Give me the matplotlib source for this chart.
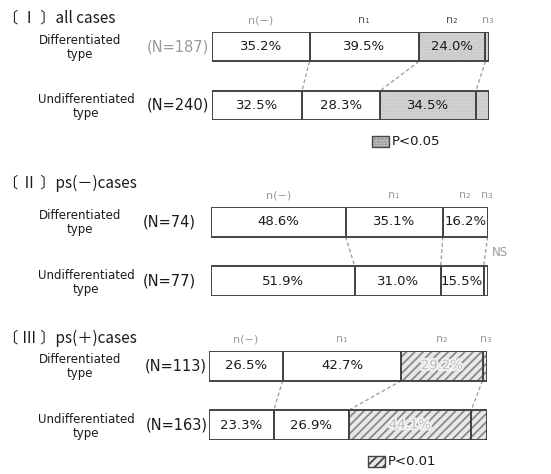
import matplotlib
matplotlib.use("Agg")
import matplotlib.pyplot as plt
import matplotlib.patheffects as pe
from matplotlib.patches import Rectangle

W, H = 551, 474

# ---- data ----
categories = ["n(−)", "n₁", "n₂", "n₃"]
row_labels = ["Differentiated\ntype", "Undifferentiated\ntype"]

titles = ["〔 Ⅰ 〕all cases", "〔 Ⅱ 〕ps(－)cases", "〔 Ⅲ 〕ps(＋)cases"]
n_labels = [["(N=187)", "(N=240)"], ["(N=74)", "(N=77)"], ["(N=113)", "(N=163)"]]

# shares per row: n(-), n1, n2, n3   [differentiated, undifferentiated]
all_diff = [35.2, 39.5, 24.0, 1.3]
all_undiff = [32.5, 28.3, 34.5, 4.7]
psneg_diff = [48.6, 35.1, 16.2, 0.1]
psneg_undiff = [51.9, 31.0, 15.5, 1.6]
pspos_diff = [26.5, 42.7, 29.2, 1.6]
pspos_undiff = [23.3, 26.9, 44.1, 5.7]

panels = [(all_diff, all_undiff), (psneg_diff, psneg_undiff), (pspos_diff, pspos_undiff)]
# which segments carry the significance fill in each panel
fill_style = ["dots", None, "hatch"]
legend_text = ["P<0.05", None, "P<0.01"]

# ---- layout (pixels) ----
bar_boxes = [(212, 32, 489, 120), (211, 207, 488, 296), (209, 351, 487, 440)]
title_pos = [(3, 18), (3, 183), (3, 338)]
nlabel_right = [(209, 209), (196, 196), (207, 208)]
legend_pos = [(372, 136), None, (368, 456)]

plt.rcParams["hatch.linewidth"] = 1.3

fig = plt.figure(figsize=(W / 100, H / 100), dpi=100)
fig.patch.set_facecolor("white")

overlay = fig.add_axes([0, 0, 1, 1])
overlay.set_xlim(0, W)
overlay.set_ylim(H, 0)
overlay.axis("off")

cjk = ["Noto Sans CJK JP", "DejaVu Sans"]
edge = "#444444"
gray_txt = "#9a9a9a"
dark = "#1a1a1a"

STYLES = {
    "dots": dict(facecolor="#dadada", edgecolor="#c0c0c0", hatch="......"),
    "hatch": dict(facecolor="#e8e8e8", edgecolor="#8a8a8a", hatch="////"),
}


def shade(ax, x, y, w, h, style):
    ax.add_patch(Rectangle((x, y), w, h, linewidth=0, zorder=1, **STYLES[style]))


for p, (rows, box) in enumerate(zip(panels, bar_boxes)):
    x0, y0, x1, y1 = box
    ax = fig.add_axes([x0 / W, 1 - y1 / H, (x1 - x0) / W, (y1 - y0) / H])
    ax.set_xlim(0, 100)
    ax.set_ylim(-0.25, 1.25)
    ax.axis("off")

    ypos = [1, 0]
    bh = 0.5
    cums = []
    for r, vals in enumerate(rows):
        y = ypos[r]
        left = 0.0
        c = []
        for k, v in enumerate(vals):
            if k >= 2 and fill_style[p]:
                shade(ax, left, y - bh / 2, v, bh, fill_style[p])
            ax.barh(y, v, left=left, height=bh, facecolor="none", edgecolor=edge,
                    linewidth=1.4, zorder=2)
            left += v
            c.append(left)
        cums.append(c)
        # percentage labels for the first three segments
        left = 0.0
        for k, v in enumerate(vals[:3]):
            if fill_style[p] == "hatch" and k == 2:
                ax.text(left + v / 2, y, f"{v:.1f}%", ha="center", va="center",
                        fontsize=9.5, color="#bdbdbd", zorder=3,
                        path_effects=[pe.withStroke(linewidth=2.5, foreground="#f4f4f4")])
            else:
                ax.text(left + v / 2, y, f"{v:.1f}%", ha="center", va="center",
                        fontsize=9.5, color=dark, zorder=3)
            left += v

    # dashed connectors between matching boundaries
    for k in range(3):
        ax.plot([cums[0][k], cums[1][k]], [1 - bh / 2, bh / 2], color="#9a9a9a",
                linestyle=(0, (3, 2)), linewidth=0.9, zorder=0)

    # category headers above the top bar
    left = 0.0
    for k, v in enumerate(rows[0]):
        ax.text(left + v / 2 if k < 3 else 99.5, 1 + bh / 2 + 0.2, categories[k],
                ha="center", va="center", fontsize=8,
                color=("#555555" if p == 0 and k in (1, 2) else gray_txt))
        left += v

    # titles and row labels
    tx, ty = title_pos[p]
    overlay.text(tx, ty, titles[p], ha="left", va="center", fontsize=11,
                 family=cjk, color=dark)
    for r in range(2):
        yc = y0 + (1.25 - ypos[r]) / 1.5 * (y1 - y0)
        overlay.text(80 if r == 0 else 86, yc + 1, row_labels[r], ha="center", va="center",
                     fontsize=8.5, color=dark, linespacing=1.1)
        overlay.text(nlabel_right[p][r], yc, n_labels[p][r], ha="right", va="center",
                     fontsize=10.5, color=(gray_txt if (p == 0 and r == 0) else dark))

    # significance key
    if legend_pos[p]:
        lx, ly = legend_pos[p]
        st = dict(STYLES[fill_style[p]])
        st["edgecolor"] = "#777777" if fill_style[p] == "dots" else "#444444"
        overlay.add_patch(Rectangle((lx, ly), 17, 11, linewidth=0, **st))
        overlay.add_patch(Rectangle((lx, ly), 17, 11, facecolor="none", edgecolor=edge, linewidth=1.0))
        overlay.text(lx + 20, ly + 5.5, legend_text[p], ha="left", va="center",
                     fontsize=9.5, color=dark)

overlay.text(500, 253, "NS", ha="center", va="center", fontsize=8.5, color=gray_txt)

fig.savefig("out.png", dpi=100, facecolor="white")
